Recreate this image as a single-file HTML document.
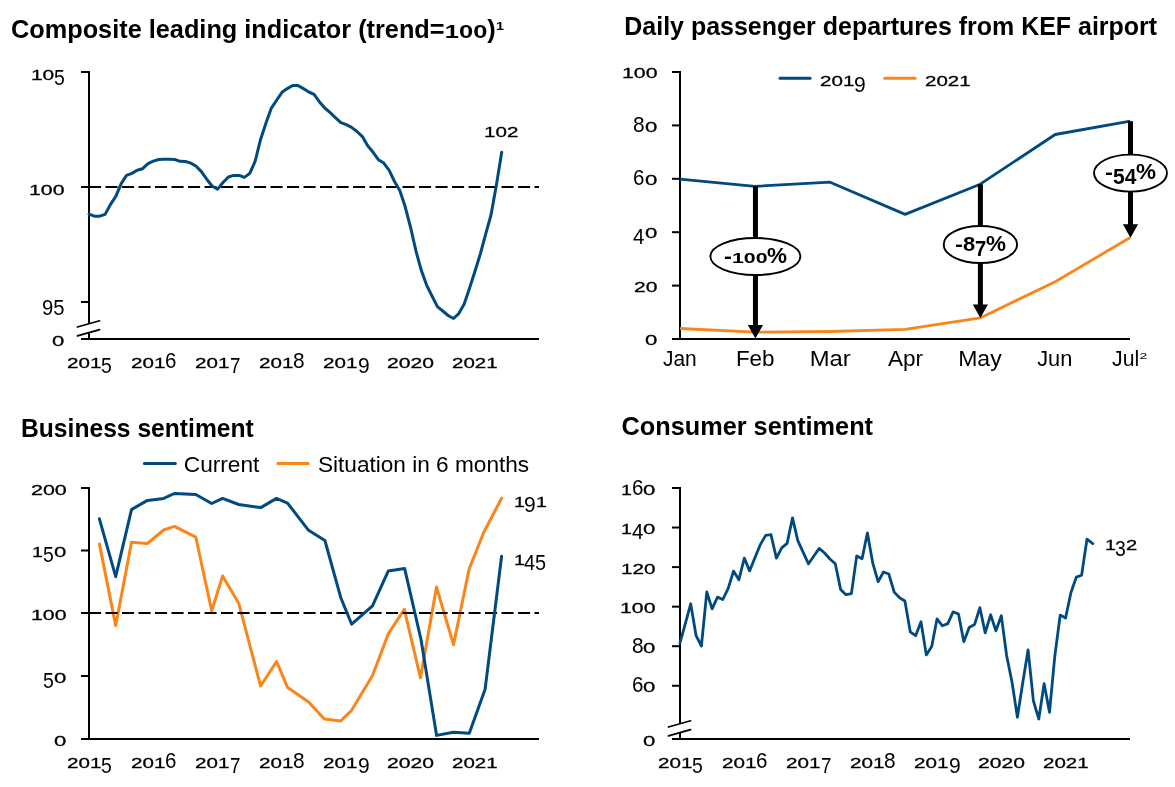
<!DOCTYPE html>
<html lang="en"><head><meta charset="utf-8"><title>Economic indicators</title>
<style>
html,body{margin:0;padding:0;background:#fff}
#page{position:relative;width:1175px;height:787px;overflow:hidden;background:#fff}
svg{display:block;position:absolute;left:0;top:0}
text{font-family:"Liberation Sans", sans-serif;fill:#000}
.n{position:absolute;white-space:nowrap;height:24px;font:21px/24px "Liberation Sans", sans-serif;color:#000}
.n span{display:inline-block;line-height:24px;text-align:left;transform-origin:0 50%}
.x{font-size:15px;-webkit-text-stroke:.3px #000}
.a{font-size:22px}
.d{font-size:21.9px;position:relative;top:5.4px}
.t{position:absolute;white-space:nowrap;height:30px;font:bold 25.2px/30px "Liberation Sans", sans-serif;color:#000;transform-origin:0 50%;transform:scaleX(1.0043)}
.t span{display:inline-block;line-height:30px;transform-origin:0 50%}
.tx{font-size:18.2px;width:42.4px;transform:scaleX(1.396)}
.sup{font-size:10.8px;position:relative;top:-7.9px;margin-left:.6px;width:8.2px;transform:scaleX(1.33)}
.e{font-weight:bold}
.e .x{font-size:14.8px;-webkit-text-stroke:0}
.e .a{font-size:20.5px}
.e .d{font-size:21.2px;top:4.8px}
.e .h{font-size:20px}
.e .p{font-size:22.2px}
</style></head><body>
<div id="page">
<svg width="1175" height="787" viewBox="0 0 1175 787">
<rect width="1175" height="787" fill="#fff"/>
<g id="c1">
<line x1="89" y1="72" x2="89" y2="323.9" stroke="#000" stroke-width="2"/>
<line x1="89" y1="332.75" x2="89" y2="339" stroke="#000" stroke-width="2"/>
<line x1="77.4" y1="327.05" x2="99.6" y2="320.75" stroke="#000" stroke-width="1.7" stroke-linecap="round"/>
<line x1="77.4" y1="335.9" x2="99.6" y2="329.6" stroke="#000" stroke-width="1.7" stroke-linecap="round"/>
<line x1="81" y1="72" x2="90" y2="72" stroke="#000" stroke-width="2"/>
<line x1="81" y1="187" x2="90" y2="187" stroke="#000" stroke-width="2"/>
<line x1="81" y1="302" x2="90" y2="302" stroke="#000" stroke-width="2"/>
<line x1="81" y1="339" x2="539" y2="339" stroke="#000" stroke-width="2"/>
<line x1="89" y1="187" x2="539" y2="187" stroke="#000" stroke-width="2" stroke-dasharray="12.1 4.4"/>
<polyline points="89.0,214.2 94.4,216.2 99.7,216.2 105.1,214.4 110.4,204.6 115.8,196.4 121.2,183.6 126.5,175.4 131.9,173.4 137.2,170.3 142.6,168.7 148.0,163.6 153.3,161.1 158.7,159.5 164.0,159.3 169.4,159.3 174.8,159.5 180.1,161.3 185.5,161.5 190.8,163.1 196.2,166.2 201.6,171.9 206.9,179.5 212.3,186.2 217.6,189.1 223.0,182.5 228.4,177.0 233.7,175.4 239.1,175.4 244.4,177.4 249.8,173.4 255.2,161.1 260.5,139.7 265.9,123.3 271.2,108.4 276.6,100.2 282.0,92.3 287.3,88.6 292.7,85.5 298.0,85.5 303.4,88.6 308.8,92.0 314.1,94.3 319.5,101.9 324.8,108.0 330.2,112.7 335.6,117.8 340.9,122.7 346.3,124.7 351.6,127.4 357.0,131.5 362.4,136.6 367.7,145.8 373.1,152.3 378.4,159.7 383.8,163.1 389.2,170.3 394.5,181.5 399.9,190.7 405.2,206.8 410.6,227.5 416.0,251.2 421.3,270.3 426.7,285.3 432.0,296.0 437.4,306.6 442.8,311.0 448.1,315.5 453.5,318.5 458.8,313.6 464.2,304.0 469.6,288.0 474.9,271.5 480.3,254.0 485.6,234.4 491.0,215.0 496.4,185.0 501.7,152.3" fill="none" stroke="#014a80" stroke-width="3" stroke-linejoin="round" stroke-linecap="round"/>
</g>
<g id="c2">
<text x="624.3" y="35.2" font-size="25.2" font-weight="bold" textLength="532.8" lengthAdjust="spacingAndGlyphs">Daily passenger departures from KEF airport</text>
<line x1="680" y1="72" x2="680" y2="339" stroke="#000" stroke-width="2"/>
<line x1="672" y1="72" x2="681" y2="72" stroke="#000" stroke-width="2"/>
<line x1="672" y1="125.4" x2="681" y2="125.4" stroke="#000" stroke-width="2"/>
<line x1="672" y1="178.8" x2="681" y2="178.8" stroke="#000" stroke-width="2"/>
<line x1="672" y1="232.2" x2="681" y2="232.2" stroke="#000" stroke-width="2"/>
<line x1="672" y1="285.6" x2="681" y2="285.6" stroke="#000" stroke-width="2"/>
<line x1="672" y1="339" x2="1130" y2="339" stroke="#000" stroke-width="2"/>
<polyline points="680.0,179.1 755.0,186.3 830.1,182.2 905.1,214.4 980.2,184.2 1055.2,134.5 1130.3,121.2" fill="none" stroke="#014a80" stroke-width="2.8" stroke-linejoin="round"/>
<polyline points="680.0,328.5 755.0,332.2 830.1,331.5 905.1,329.4 980.2,317.9 1055.2,281.7 1130.3,237.5" fill="none" stroke="#f9851b" stroke-width="2.8" stroke-linejoin="round"/>
<line x1="755.45" y1="186.3" x2="755.45" y2="326.6" stroke="#000" stroke-width="5"/>
<polygon points="747.8,325.1 763.0,325.1 755.4,338.6" fill="#000"/>
<ellipse cx="755.4" cy="256.5" rx="45" ry="18.5" fill="#fff" stroke="#000" stroke-width="1.9"/>
<line x1="980.4" y1="184.2" x2="980.4" y2="306" stroke="#000" stroke-width="5"/>
<polygon points="972.8,304.5 988.0,304.5 980.4,318.0" fill="#000"/>
<ellipse cx="980.4" cy="244.5" rx="36.7" ry="18.5" fill="#fff" stroke="#000" stroke-width="1.9"/>
<line x1="1130.5" y1="121.2" x2="1130.5" y2="225.7" stroke="#000" stroke-width="5"/>
<polygon points="1122.9,224.2 1138.1,224.2 1130.5,237.7" fill="#000"/>
<ellipse cx="1130.5" cy="173.1" rx="36.5" ry="18.5" fill="#fff" stroke="#000" stroke-width="1.9"/>
<text x="679.8" y="365.8" font-size="22" text-anchor="middle" textLength="33.75" lengthAdjust="spacingAndGlyphs">Jan</text>
<text x="755.2" y="365.8" font-size="22" text-anchor="middle" textLength="38.5" lengthAdjust="spacingAndGlyphs">Feb</text>
<text x="830.2" y="365.8" font-size="22" text-anchor="middle" textLength="41" lengthAdjust="spacingAndGlyphs">Mar</text>
<text x="905.6" y="365.8" font-size="22" text-anchor="middle" textLength="35.1" lengthAdjust="spacingAndGlyphs">Apr</text>
<text x="979.9" y="365.8" font-size="22" text-anchor="middle" textLength="43.5" lengthAdjust="spacingAndGlyphs">May</text>
<text x="1054.8" y="365.8" font-size="22" text-anchor="middle" textLength="35.15" lengthAdjust="spacingAndGlyphs">Jun</text>
<text x="1112" y="365.8" font-size="22" textLength="27.2" lengthAdjust="spacingAndGlyphs">Jul</text>
<text x="1139.6" y="359" font-size="9.8" textLength="7.8" lengthAdjust="spacingAndGlyphs">2</text>
<line x1="780" y1="78.3" x2="810.1" y2="78.3" stroke="#014a80" stroke-width="3" stroke-linecap="round"/>
<line x1="884.7" y1="78.3" x2="915.1" y2="78.3" stroke="#f9851b" stroke-width="3" stroke-linecap="round"/>
</g>
<g id="c3">
<text x="21" y="436.5" font-size="25.2" font-weight="bold" textLength="232.8" lengthAdjust="spacingAndGlyphs">Business sentiment</text>
<line x1="89" y1="488" x2="89" y2="739" stroke="#000" stroke-width="2"/>
<line x1="81" y1="488" x2="90" y2="488" stroke="#000" stroke-width="2"/>
<line x1="81" y1="550.5" x2="90" y2="550.5" stroke="#000" stroke-width="2"/>
<line x1="81" y1="613" x2="90" y2="613" stroke="#000" stroke-width="2"/>
<line x1="81" y1="676" x2="90" y2="676" stroke="#000" stroke-width="2"/>
<line x1="81" y1="739" x2="539" y2="739" stroke="#000" stroke-width="2"/>
<polyline points="99.4,543.9 115.7,625.6 131.5,542.3 147.4,543.5 163.7,530.0 174.4,526.4 195.8,537.2 211.7,610.7 222.6,576.0 238.7,603.2 260.6,686.0 276.6,661.5 287.6,687.6 308.6,701.9 324.4,719.1 340.5,721.1 351.5,710.5 372.4,675.8 388.3,633.9 404.3,609.4 420.5,677.8 436.5,587.0 453.5,644.7 469.1,569.1 483.8,532.3 501.6,498.2" fill="none" stroke="#f9851b" stroke-width="3" stroke-linejoin="round" stroke-linecap="round"/>
<line x1="89" y1="613" x2="539" y2="613" stroke="#000" stroke-width="2" stroke-dasharray="12.1 4.4"/>
<polyline points="99.4,518.8 115.7,576.6 131.5,509.6 147.4,500.4 163.7,498.4 174.4,493.5 195.8,494.5 211.7,503.5 222.6,498.4 238.7,504.5 260.8,507.6 276.5,498.4 287.5,503.1 308.6,530.3 324.9,540.5 340.8,597.7 351.7,624.2 372.5,605.8 388.2,571.1 404.6,568.4 421.0,639.5 436.6,735.4 453.4,732.2 469.3,733.3 485.1,689.2 501.6,556.2" fill="none" stroke="#014a80" stroke-width="3" stroke-linejoin="round" stroke-linecap="round"/>
<line x1="144.4" y1="463.4" x2="175.3" y2="463.4" stroke="#014a80" stroke-width="3" stroke-linecap="round"/>
<text x="183.8" y="471.8" font-size="21.5" textLength="75.6" lengthAdjust="spacingAndGlyphs">Current</text>
<line x1="277.8" y1="463.4" x2="308.2" y2="463.4" stroke="#f9851b" stroke-width="3" stroke-linecap="round"/>
<text x="317.9" y="471.8" font-size="21.5" textLength="211.3" lengthAdjust="spacingAndGlyphs">Situation in 6 months</text>
</g>
<g id="c4">
<text x="621.5" y="435.3" font-size="25.2" font-weight="bold" textLength="251.5" lengthAdjust="spacingAndGlyphs">Consumer sentiment</text>
<line x1="680" y1="488" x2="680" y2="723.9" stroke="#000" stroke-width="2"/>
<line x1="680" y1="732.75" x2="680" y2="739" stroke="#000" stroke-width="2"/>
<line x1="668.4" y1="727.05" x2="690.6" y2="720.75" stroke="#000" stroke-width="1.7" stroke-linecap="round"/>
<line x1="668.4" y1="735.9" x2="690.6" y2="729.6" stroke="#000" stroke-width="1.7" stroke-linecap="round"/>
<line x1="672" y1="488" x2="681" y2="488" stroke="#000" stroke-width="2"/>
<line x1="672" y1="527.55" x2="681" y2="527.55" stroke="#000" stroke-width="2"/>
<line x1="672" y1="567.1" x2="681" y2="567.1" stroke="#000" stroke-width="2"/>
<line x1="672" y1="606.65" x2="681" y2="606.65" stroke="#000" stroke-width="2"/>
<line x1="672" y1="646.2" x2="681" y2="646.2" stroke="#000" stroke-width="2"/>
<line x1="672" y1="685.75" x2="681" y2="685.75" stroke="#000" stroke-width="2"/>
<line x1="672" y1="739" x2="1130" y2="739" stroke="#000" stroke-width="2"/>
<polyline points="680.0,642.8 685.4,623.3 690.7,603.8 696.1,635.7 701.4,646.0 706.8,592.0 712.1,608.9 717.5,597.1 722.8,599.5 728.2,588.3 733.5,571.1 738.9,579.7 744.3,558.1 749.6,570.9 755.0,557.5 760.3,544.7 765.7,535.4 771.0,534.7 776.4,558.1 781.7,547.9 787.1,543.4 792.5,517.9 797.8,540.6 803.2,552.3 808.5,563.8 813.9,556.0 819.2,548.4 824.6,553.0 829.9,559.0 835.3,563.8 840.6,589.4 846.0,594.7 851.4,593.6 856.7,555.9 862.1,558.7 867.4,532.9 872.8,563.2 878.1,581.7 883.5,572.0 888.8,574.0 894.2,592.1 899.6,597.8 904.9,601.0 910.3,631.9 915.6,635.7 921.0,621.7 926.3,654.9 931.7,646.6 937.0,618.9 942.4,625.8 947.8,623.6 953.1,611.9 958.5,614.0 963.8,641.7 969.2,627.4 974.5,624.6 979.9,607.7 985.2,632.9 990.6,614.8 995.9,630.8 1001.3,615.8 1006.7,656.0 1012.0,682.0 1017.4,717.2 1022.7,683.0 1028.1,649.8 1033.4,700.9 1038.8,719.0 1044.1,683.6 1049.5,712.3 1054.8,656.2 1060.2,615.1 1065.6,618.0 1070.9,592.8 1076.3,577.1 1081.6,575.2 1087.0,539.1 1092.8,543.6" fill="none" stroke="#014a80" stroke-width="2.8" stroke-linejoin="round" stroke-linecap="round"/>
</g>
</svg>
<div class="t" style="left:11.1px;top:13.66px">Composite leading indicator (trend=<span class="tx">100</span>)<span class="sup">1</span></div>
<div class="n" aria-label="105" style="left:30.7px;top:60.5px"><span class="x" style="width:23.2px;transform:scaleX(1.390)">10</span><span class="d" style="width:10.8px;transform:scaleX(0.887)">5</span></div>
<div class="n" aria-label="100" style="left:29.2px;top:175.5px"><span class="x" style="width:35.5px;transform:scaleX(1.418)">100</span></div>
<div class="n" aria-label="95" style="left:42.2px;top:290.5px"><span class="d" style="width:22.5px;transform:scaleX(0.924)">95</span></div>
<div class="n" aria-label="0" style="left:52.2px;top:326.6px"><span class="x" style="width:12.3px;transform:scaleX(1.474)">0</span></div>
<div class="n" aria-label="2015" style="left:66.6px;top:348.8px"><span class="x" style="width:34.4px;transform:scaleX(1.374)">201</span><span class="d" style="width:10.8px;transform:scaleX(0.887)">5</span></div>
<div class="n" aria-label="2016" style="left:130.6px;top:348.8px"><span class="x" style="width:34.4px;transform:scaleX(1.374)">201</span><span class="a" style="width:11.4px;transform:scaleX(0.932)">6</span></div>
<div class="n" aria-label="2017" style="left:195.4px;top:348.8px"><span class="x" style="width:34.4px;transform:scaleX(1.374)">201</span><span class="d" style="width:10.4px;transform:scaleX(0.854)">7</span></div>
<div class="n" aria-label="2018" style="left:259.1px;top:348.8px"><span class="x" style="width:34.4px;transform:scaleX(1.374)">201</span><span class="a" style="width:11.6px;transform:scaleX(0.948)">8</span></div>
<div class="n" aria-label="2019" style="left:323.3px;top:348.8px"><span class="x" style="width:34.4px;transform:scaleX(1.374)">201</span><span class="d" style="width:11.7px;transform:scaleX(0.961)">9</span></div>
<div class="n" aria-label="2020" style="left:387.2px;top:348.8px"><span class="x" style="width:47.0px;transform:scaleX(1.408)">2020</span></div>
<div class="n" aria-label="2021" style="left:452.2px;top:348.8px"><span class="x" style="width:45.6px;transform:scaleX(1.366)">2021</span></div>
<div class="n" aria-label="102" style="left:483.8px;top:117.5px"><span class="x" style="width:34.4px;transform:scaleX(1.374)">102</span></div>
<div class="n e" aria-label="-100%" style="left:723.7px;top:243.8px"><span class="h" style="width:7.9px;transform:scaleX(1.186)">-</span><span class="x" style="width:35.6px;transform:scaleX(1.442)">100</span><span class="p" style="width:20.0px;transform:scaleX(1.013)">%</span></div>
<div class="n e" aria-label="-87%" style="left:954.8px;top:231.8px"><span class="h" style="width:7.9px;transform:scaleX(1.186)">-</span><span class="a" style="width:12.2px;transform:scaleX(1.070)">8</span><span class="d" style="width:11.2px;transform:scaleX(0.950)">7</span><span class="p" style="width:20.0px;transform:scaleX(1.013)">%</span></div>
<div class="n e" aria-label="-54%" style="left:1104.8px;top:160.4px"><span class="h" style="width:7.9px;transform:scaleX(1.186)">-</span><span class="d" style="width:23.4px;transform:scaleX(0.992)">54</span><span class="p" style="width:20.0px;transform:scaleX(1.013)">%</span></div>
<div class="n" aria-label="100" style="left:621.6px;top:59.2px"><span class="x" style="width:35.5px;transform:scaleX(1.418)">100</span></div>
<div class="n" aria-label="80" style="left:633.2px;top:112.6px"><span class="a" style="width:11.6px;transform:scaleX(0.948)">8</span><span class="x" style="width:12.3px;transform:scaleX(1.474)">0</span></div>
<div class="n" aria-label="60" style="left:633.4px;top:166.0px"><span class="a" style="width:11.4px;transform:scaleX(0.932)">6</span><span class="x" style="width:12.3px;transform:scaleX(1.474)">0</span></div>
<div class="n" aria-label="40" style="left:633.4px;top:219.4px"><span class="d" style="width:11.4px;transform:scaleX(0.936)">4</span><span class="x" style="width:12.3px;transform:scaleX(1.474)">0</span></div>
<div class="n" aria-label="20" style="left:633.6px;top:272.8px"><span class="x" style="width:23.5px;transform:scaleX(1.408)">20</span></div>
<div class="n" aria-label="0" style="left:644.8px;top:326.2px"><span class="x" style="width:12.3px;transform:scaleX(1.474)">0</span></div>
<div class="n" aria-label="2019" style="left:820.1px;top:67.4px"><span class="x" style="width:34.4px;transform:scaleX(1.374)">201</span><span class="d" style="width:11.7px;transform:scaleX(0.961)">9</span></div>
<div class="n" aria-label="2021" style="left:924.8px;top:67.4px"><span class="x" style="width:45.6px;transform:scaleX(1.366)">2021</span></div>
<div class="n" aria-label="200" style="left:30.5px;top:475.6px"><span class="x" style="width:35.8px;transform:scaleX(1.430)">200</span></div>
<div class="n" aria-label="150" style="left:32.3px;top:538.1px"><span class="x" style="width:10.9px;transform:scaleX(1.306)">1</span><span class="d" style="width:10.8px;transform:scaleX(0.887)">5</span><span class="x" style="width:12.3px;transform:scaleX(1.474)">0</span></div>
<div class="n" aria-label="100" style="left:30.8px;top:600.6px"><span class="x" style="width:35.5px;transform:scaleX(1.418)">100</span></div>
<div class="n" aria-label="50" style="left:43.2px;top:663.6px"><span class="d" style="width:10.8px;transform:scaleX(0.887)">5</span><span class="x" style="width:12.3px;transform:scaleX(1.474)">0</span></div>
<div class="n" aria-label="0" style="left:54.0px;top:726.6px"><span class="x" style="width:12.3px;transform:scaleX(1.474)">0</span></div>
<div class="n" aria-label="2015" style="left:66.6px;top:748.8px"><span class="x" style="width:34.4px;transform:scaleX(1.374)">201</span><span class="d" style="width:10.8px;transform:scaleX(0.887)">5</span></div>
<div class="n" aria-label="2016" style="left:130.6px;top:748.8px"><span class="x" style="width:34.4px;transform:scaleX(1.374)">201</span><span class="a" style="width:11.4px;transform:scaleX(0.932)">6</span></div>
<div class="n" aria-label="2017" style="left:195.4px;top:748.8px"><span class="x" style="width:34.4px;transform:scaleX(1.374)">201</span><span class="d" style="width:10.4px;transform:scaleX(0.854)">7</span></div>
<div class="n" aria-label="2018" style="left:259.1px;top:748.8px"><span class="x" style="width:34.4px;transform:scaleX(1.374)">201</span><span class="a" style="width:11.6px;transform:scaleX(0.948)">8</span></div>
<div class="n" aria-label="2019" style="left:323.3px;top:748.8px"><span class="x" style="width:34.4px;transform:scaleX(1.374)">201</span><span class="d" style="width:11.7px;transform:scaleX(0.961)">9</span></div>
<div class="n" aria-label="2020" style="left:387.2px;top:748.8px"><span class="x" style="width:47.0px;transform:scaleX(1.408)">2020</span></div>
<div class="n" aria-label="2021" style="left:452.2px;top:748.8px"><span class="x" style="width:45.6px;transform:scaleX(1.366)">2021</span></div>
<div class="n" aria-label="191" style="left:513.5px;top:487.5px"><span class="x" style="width:10.9px;transform:scaleX(1.306)">1</span><span class="d" style="width:11.7px;transform:scaleX(0.961)">9</span><span class="x" style="width:10.9px;transform:scaleX(1.306)">1</span></div>
<div class="n" aria-label="145" style="left:513.5px;top:545.7px"><span class="x" style="width:10.9px;transform:scaleX(1.306)">1</span><span class="d" style="width:22.2px;transform:scaleX(0.911)">45</span></div>
<div class="n" aria-label="160" style="left:620.9px;top:475.5px"><span class="x" style="width:10.9px;transform:scaleX(1.306)">1</span><span class="a" style="width:11.4px;transform:scaleX(0.932)">6</span><span class="x" style="width:12.3px;transform:scaleX(1.474)">0</span></div>
<div class="n" aria-label="140" style="left:620.9px;top:515.1px"><span class="x" style="width:10.9px;transform:scaleX(1.306)">1</span><span class="d" style="width:11.4px;transform:scaleX(0.936)">4</span><span class="x" style="width:12.3px;transform:scaleX(1.474)">0</span></div>
<div class="n" aria-label="120" style="left:621.1px;top:554.6px"><span class="x" style="width:34.4px;transform:scaleX(1.374)">120</span></div>
<div class="n" aria-label="100" style="left:620.0px;top:594.2px"><span class="x" style="width:35.5px;transform:scaleX(1.418)">100</span></div>
<div class="n" aria-label="80" style="left:631.6px;top:633.7px"><span class="a" style="width:11.6px;transform:scaleX(0.948)">8</span><span class="x" style="width:12.3px;transform:scaleX(1.474)">0</span></div>
<div class="n" aria-label="60" style="left:631.8px;top:673.3px"><span class="a" style="width:11.4px;transform:scaleX(0.932)">6</span><span class="x" style="width:12.3px;transform:scaleX(1.474)">0</span></div>
<div class="n" aria-label="0" style="left:643.2px;top:726.5px"><span class="x" style="width:12.3px;transform:scaleX(1.474)">0</span></div>
<div class="n" aria-label="2015" style="left:657.6px;top:748.8px"><span class="x" style="width:34.4px;transform:scaleX(1.374)">201</span><span class="d" style="width:10.8px;transform:scaleX(0.887)">5</span></div>
<div class="n" aria-label="2016" style="left:721.6px;top:748.8px"><span class="x" style="width:34.4px;transform:scaleX(1.374)">201</span><span class="a" style="width:11.4px;transform:scaleX(0.932)">6</span></div>
<div class="n" aria-label="2017" style="left:786.4px;top:748.8px"><span class="x" style="width:34.4px;transform:scaleX(1.374)">201</span><span class="d" style="width:10.4px;transform:scaleX(0.854)">7</span></div>
<div class="n" aria-label="2018" style="left:850.1px;top:748.8px"><span class="x" style="width:34.4px;transform:scaleX(1.374)">201</span><span class="a" style="width:11.6px;transform:scaleX(0.948)">8</span></div>
<div class="n" aria-label="2019" style="left:914.4px;top:748.8px"><span class="x" style="width:34.4px;transform:scaleX(1.374)">201</span><span class="d" style="width:11.7px;transform:scaleX(0.961)">9</span></div>
<div class="n" aria-label="2020" style="left:978.2px;top:748.8px"><span class="x" style="width:47.0px;transform:scaleX(1.408)">2020</span></div>
<div class="n" aria-label="2021" style="left:1043.2px;top:748.8px"><span class="x" style="width:45.6px;transform:scaleX(1.366)">2021</span></div>
<div class="n" aria-label="132" style="left:1104.5px;top:531.3px"><span class="x" style="width:10.9px;transform:scaleX(1.306)">1</span><span class="d" style="width:10.8px;transform:scaleX(0.887)">3</span><span class="x" style="width:11.2px;transform:scaleX(1.342)">2</span></div>
</div>
</body></html>
